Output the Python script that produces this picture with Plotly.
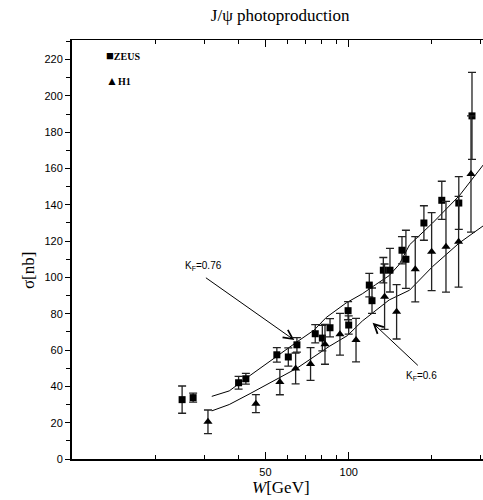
import math
import plotly.graph_objects as go

# ZEUS data
zeus_w = [25, 27.4, 40, 42.5, 55, 60.5, 65, 75.7, 80.3, 85.6, 99.5, 100, 118.7, 121.4, 133.4, 141, 155.8, 161, 187, 217, 250, 279]
zeus_s = [32.7, 33.8, 42, 44.2, 57.4, 56.2, 62.9, 69, 66.6, 72.3, 81.7, 73.8, 95.8, 87.2, 104, 104, 115, 110, 130, 142.5, 141, 189]
zeus_e = [7.5, 2.5, 3.5, 3, 4, 5, 4, 5, 7, 5, 5, 5, 6.5, 7, 7, 12, 7.5, 16, 9.5, 10.5, 14.5, 24]

# H1 data
h1_w = [31, 46.2, 56.4, 64.3, 72.8, 82.1, 93, 106.3, 134.8, 149, 174, 199.4, 224.7, 249.6, 276.7]
h1_s = [20.5, 30.5, 42.4, 49.9, 52.3, 63.2, 68.7, 65.5, 89.4, 81.1, 104.5, 114.2, 116.9, 119.7, 157]
h1_e = [6.5, 5, 7, 8.5, 9, 11, 11.5, 12, 18, 15, 18, 21.5, 25, 25, 32]

# model curves
up_w = [32, 37, 44, 52, 57, 65, 75, 83, 98, 112, 125, 140, 152, 166, 201, 251, 310]
up_s = [34.5, 37.5, 46, 54, 58, 64.5, 71, 78, 86, 91, 96, 101, 107, 118, 130, 145, 163]
lo_w = [32, 37, 44, 52, 65, 85, 99, 112, 140, 166, 201, 251, 310]
lo_s = [26.5, 30, 36, 42, 50, 62, 68, 76, 87.6, 93, 106, 119, 129]

x_major = [50, 100]
x_minor = [20, 30, 40, 60, 70, 80, 90, 200, 300]

L = math.log10

fig = go.Figure()
fig.add_trace(go.Scatter(x=up_w, y=up_s, mode="lines", line=dict(color="black", width=1), showlegend=False, hoverinfo="skip"))
fig.add_trace(go.Scatter(x=lo_w, y=lo_s, mode="lines", line=dict(color="black", width=1), showlegend=False, hoverinfo="skip"))
fig.add_trace(go.Scatter(x=zeus_w, y=zeus_s, mode="markers", name="ZEUS",
                         marker=dict(symbol="square", size=7, color="black"),
                         error_y=dict(type="data", array=zeus_e, color="#222", thickness=1.3, width=4),
                         showlegend=False))
fig.add_trace(go.Scatter(x=h1_w, y=h1_s, mode="markers", name="H1",
                         marker=dict(symbol="triangle-up", size=8, color="black"),
                         error_y=dict(type="data", array=h1_e, color="#222", thickness=1.3, width=4),
                         showlegend=False))
# invisible trace for top axis
fig.add_trace(go.Scatter(x=[50], y=[0], xaxis="x2", mode="markers", marker=dict(opacity=0), showlegend=False, hoverinfo="skip"))

xr = [1, 2.4854]
tickfont = dict(family="Liberation Sans, Arial", size=11, color="black")
fig.update_layout(
    width=483, height=500,
    margin=dict(l=72, r=0, t=40, b=41),
    plot_bgcolor="white", paper_bgcolor="white",
    title=dict(text="J/ψ photoproduction", x=0.58, xanchor="center", y=0.97, yanchor="middle",
               font=dict(family="Liberation Serif, DejaVu Serif", size=17, color="black")),
    xaxis=dict(type="log", range=xr, showline=True, linecolor="black", linewidth=2,
               tickmode="array", tickvals=x_major, ticktext=[str(v) for v in x_major],
               ticks="inside", ticklen=7, tickwidth=1, tickcolor="black",
               minor=dict(tickmode="array", tickvals=x_minor, ticks="inside", ticklen=4, tickcolor="black"),
               showgrid=False, zeroline=False, tickfont=tickfont, ticklabelstandoff=2),
    xaxis2=dict(type="log", range=xr, overlaying="x", side="top", anchor="y", showline=True,
                linecolor="black", linewidth=1, tickmode="array", tickvals=x_major, showticklabels=False,
                ticks="inside", ticklen=7, tickcolor="black",
                minor=dict(tickmode="array", tickvals=x_minor, ticks="inside", ticklen=4, tickcolor="black"),
                showgrid=False, zeroline=False),
    yaxis=dict(range=[0, 230.8], showline=True, linecolor="black", linewidth=2,
               tickmode="linear", tick0=0, dtick=20, ticks="outside", ticklen=5, tickcolor="black",
               minor=dict(dtick=10, ticks="outside", ticklen=4, tickcolor="black"),
               showgrid=False, zeroline=False, tickfont=tickfont),
)

serif = "Liberation Serif, DejaVu Serif"
anns = [
    dict(text="σ[nb]", x=-0.107, y=0.451, xref="paper", yref="paper", xanchor="center", yanchor="middle",
         showarrow=False, textangle=-90, font=dict(family=serif, size=17, color="black")),
    dict(text="<i>W</i>[GeV]", x=0.5085, y=-0.069, xref="paper", yref="paper", xanchor="center", yanchor="middle",
         showarrow=False, font=dict(family=serif, size=17, color="black")),
    dict(text="<b><span style='font-size:13px'>■</span>ZEUS</b>", x=0.078, y=0.962, xref="paper", yref="paper",
         xanchor="left", yanchor="middle", showarrow=False, font=dict(family=serif, size=10, color="black")),
    dict(text="<b><span style='font-size:12px'>▲</span>H1</b>", x=0.078, y=0.902, xref="paper", yref="paper",
         xanchor="left", yanchor="middle", showarrow=False, font=dict(family=serif, size=10, color="black")),
    dict(text="K<sub>F</sub>=0.76", x=L(29.8), y=106.3, xref="x", yref="y", showarrow=False,
         font=dict(family="Liberation Sans, Arial", size=10, color="black")),
    dict(text="K<sub>F</sub>=0.6", x=L(183), y=45.7, xref="x", yref="y", showarrow=False,
         font=dict(family="Liberation Sans, Arial", size=10, color="black")),
    dict(text="", x=L(63.6), y=65.5, ax=L(30.1), ay=100.4, xref="x", yref="y", axref="x", ayref="y",
         showarrow=True, arrowhead=5, arrowsize=1.8, arrowwidth=1, arrowcolor="black", standoff=0),
    dict(text="", x=L(122), y=75, ax=L(180), ay=50.8, xref="x", yref="y", axref="x", ayref="y",
         showarrow=True, arrowhead=5, arrowsize=1.8, arrowwidth=1, arrowcolor="black", standoff=0),
]
fig.update_layout(annotations=anns)
fig.write_html("out.html")
